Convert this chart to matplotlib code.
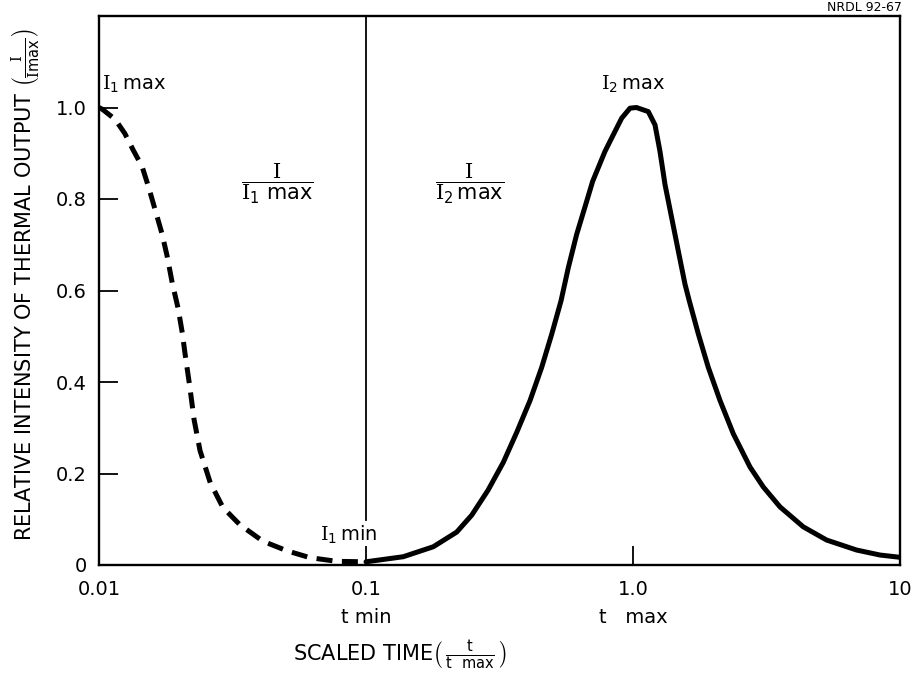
import matplotlib
matplotlib.use("Agg")
import matplotlib.pyplot as plt

plt.rcParams['font.family'] = ['DejaVu Sans']
plt.rcParams['mathtext.fontset'] = 'custom'
plt.rcParams['mathtext.rm'] = 'DejaVu Serif'
plt.rcParams['mathtext.sf'] = 'DejaVu Sans'
plt.rcParams['mathtext.it'] = 'DejaVu Sans:italic'

# Phase 1 (dashed): scaled time vs I/I1max
t_phase1 = [0.01, 0.0103, 0.0115, 0.0125, 0.0134, 0.0145, 0.0153, 0.0162, 0.0172,
            0.018, 0.0188, 0.0198, 0.0205, 0.021, 0.0219, 0.0227, 0.0239, 0.0261,
            0.0291, 0.0337, 0.0411, 0.0506, 0.0617, 0.0778, 0.1]
i_phase1 = [1.0, 0.996, 0.974, 0.943, 0.908, 0.871, 0.828, 0.778, 0.725,
            0.675, 0.617, 0.56, 0.508, 0.462, 0.388, 0.318, 0.25, 0.180,
            0.126, 0.088, 0.052, 0.031, 0.016, 0.008, 0.007]

# Phase 2 (solid): scaled time vs I/I2max
t_phase2 = [0.1, 0.1379, 0.1787, 0.2187, 0.2489, 0.2864, 0.3268, 0.3668, 0.4115,
            0.455, 0.496, 0.5375, 0.5725, 0.6152, 0.6708, 0.7063, 0.7854, 0.8439,
            0.9071, 0.9745, 1.03, 1.141, 1.209, 1.262, 1.318, 1.396, 1.478, 1.566,
            1.625, 1.757, 1.914, 2.118, 2.375, 2.743, 3.076, 3.553, 4.343, 5.313,
            6.88, 8.415, 10.0]
i_phase2 = [0.007, 0.0181, 0.0399, 0.072, 0.109, 0.1634, 0.2244, 0.2898, 0.3595,
            0.432, 0.5044, 0.5773, 0.65, 0.7227, 0.7952, 0.8388, 0.9041, 0.9405,
            0.9767, 0.9985, 1.0, 0.991, 0.962, 0.904, 0.8315, 0.7588, 0.6863, 0.6137,
            0.5773, 0.5048, 0.432, 0.3595, 0.2869, 0.2142, 0.1706, 0.127, 0.0834, 0.0545,
            0.0327, 0.0218, 0.0168]

x_ticks = [0.01, 0.1, 1.0, 10]
x_ticklabels = ["0.01", "0.1\nt min", "1.0\nt   max", "10"]
y_ticks = [0, 0.2, 0.4, 0.6, 0.8, 1.0]
y_ticklabels = ["0", "0.2", "0.4", "0.6", "0.8", "1.0"]
t_min = 0.1

fig = plt.figure(figsize=(9.16, 6.77), dpi=100)
ax = fig.add_axes([99/916, 1-565/677, 801/916, 549/677])

ax.plot(t_phase1, i_phase1, color='black', lw=3.6, linestyle=(0, (3.2, 1.9)),
        dash_capstyle='butt', dash_joinstyle='round')
ax.plot(t_phase2, i_phase2, color='black', lw=3.6, solid_capstyle='round',
        solid_joinstyle='round')

ax.set_xscale('log')
ax.set_xlim(0.01, 10)
ax.set_ylim(0, 1.2)
ax.axvline(t_min, ymin=0.098/1.2, ymax=1, color='black', lw=1.3)

ax.set_xticks(x_ticks)
ax.set_xticklabels(x_ticklabels, linespacing=1.55)
ax.minorticks_off()
ax.set_yticks(y_ticks)
ax.set_yticklabels(y_ticklabels)
ax.tick_params(axis='both', direction='in', length=14, width=1.3, labelsize=14,
               color='black')
ax.tick_params(axis='x', pad=11)
ax.tick_params(axis='y', pad=9)
for s in ax.spines.values():
    s.set_linewidth(1.7)

# annotations
ax.text(0.0103, 1.05, r"$\mathrm{I}_{\mathsf{1}}\,\mathsf{max}$", fontsize=14,
        ha='left', va='center')
ax.text(1.0, 1.05, r"$\mathrm{I}_{\mathsf{2}}\,\mathsf{max}$", fontsize=14,
        ha='center', va='center')
ax.text(0.0673, 0.065, r"$\mathrm{I}_{\mathsf{1}}\,\mathsf{min}$", fontsize=14,
        ha='left', va='center')
ax.text(0.0464, 0.834, r"$\dfrac{\mathrm{I}}{\mathrm{I}_{\mathsf{1}}\ \mathsf{max}}$",
        fontsize=15, ha='center', va='center')
ax.text(0.245, 0.834, r"$\dfrac{\mathrm{I}}{\mathrm{I}_{\mathsf{2}}\,\mathsf{max}}$",
        fontsize=15, ha='center', va='center')

ax.text(-0.092, 0.51,
        r"RELATIVE INTENSITY OF THERMAL OUTPUT $\left(\frac{\mathrm{I}}{\mathrm{I}\mathsf{max}}\right)$",
        transform=ax.transAxes, rotation=90, fontsize=15, ha='center', va='center')
ax.text(0.376, -0.164,
        r"SCALED TIME$\left(\,\frac{\mathsf{t}}{\mathsf{t\ \ max}}\,\right)$",
        transform=ax.transAxes, fontsize=15, ha='center', va='center')

fig.text(0.985, 0.998, "NRDL 92-67", fontsize=9, ha='right', va='top')

fig.savefig("out.png", dpi=100)
